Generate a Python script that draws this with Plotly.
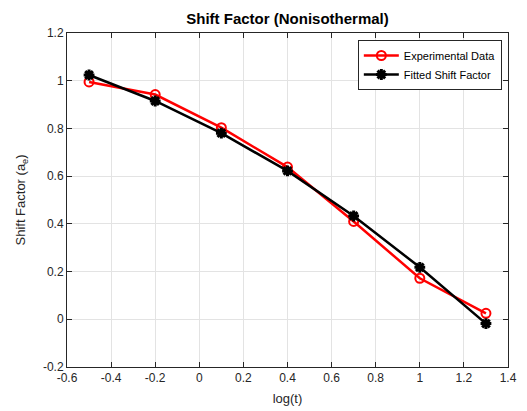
import plotly.graph_objects as go

# Shift factor data vs log time
log_t = [-0.5, -0.2, 0.1, 0.4, 0.7, 1.0, 1.3]
experimental = [0.995, 0.942, 0.803, 0.638, 0.410, 0.172, 0.025]
fitted = [1.024, 0.915, 0.780, 0.622, 0.433, 0.218, -0.018]

x_ticks = [-0.6, -0.4, -0.2, 0, 0.2, 0.4, 0.6, 0.8, 1, 1.2, 1.4]
x_labels = ["-0.6", "-0.4", "-0.2", "0", "0.2", "0.4", "0.6", "0.8", "1", "1.2", "1.4"]
y_ticks = [-0.2, 0, 0.2, 0.4, 0.6, 0.8, 1, 1.2]
y_labels = ["-0.2", "0", "0.2", "0.4", "0.6", "0.8", "1", "1.2"]

font_family = "Liberation Sans, Arial, sans-serif"
axis_color = "#262626"

fig = go.Figure()
fig.add_trace(go.Scatter(
    x=log_t, y=experimental, name="Experimental Data",
    mode="lines+markers",
    line=dict(color="#ff0000", width=2.5),
    marker=dict(symbol="circle-open", size=9, color="#ff0000", line=dict(width=2, color="#ff0000")),
))
fig.add_trace(go.Scatter(
    x=log_t, y=fitted, name="Fitted Shift Factor",
    mode="lines+markers",
    line=dict(color="#000000", width=2.5),
    marker=dict(symbol="asterisk-open", size=9, color="#000000", line=dict(width=3, color="#000000")),
))

axis_common = dict(
    showline=True, linecolor=axis_color, linewidth=1, mirror="allticks",
    ticks="inside", ticklen=5, tickcolor=axis_color,
    showgrid=True, gridcolor="#e3e3e3", gridwidth=1,
    zeroline=False, automargin=False,
    tickfont=dict(family=font_family, size=12, color=axis_color),
)

fig.update_layout(
    width=527, height=411,
    margin=dict(l=67, r=19, t=33, b=44),
    paper_bgcolor="white", plot_bgcolor="white",
    font=dict(family=font_family, color=axis_color),
    title=dict(
        text="<b>Shift Factor (Nonisothermal)</b>",
        x=0.5, xanchor="center", xref="paper", y=0.955, yanchor="middle",
        font=dict(family=font_family, size=15, color="#000000"),
    ),
    xaxis=dict(
        range=[-0.6, 1.4], tickvals=x_ticks, ticktext=x_labels,
        title=dict(text="log(t)", font=dict(family=font_family, size=13, color=axis_color), standoff=9),
        **axis_common,
    ),
    yaxis=dict(
        range=[-0.2, 1.2], tickvals=y_ticks, ticktext=y_labels,
        title=dict(text="Shift Factor (a<sub>e</sub>)", font=dict(family=font_family, size=13, color=axis_color), standoff=14),
        **axis_common,
    ),
    legend=dict(
        x=0.986, y=0.979, xanchor="right", yanchor="top",
        bgcolor="white", bordercolor="#262626", borderwidth=1,
        font=dict(family=font_family, size=11, color="#000000"),
        tracegroupgap=0, itemwidth=35,
    ),
    showlegend=True,
)

fig.write_html("out.html")
